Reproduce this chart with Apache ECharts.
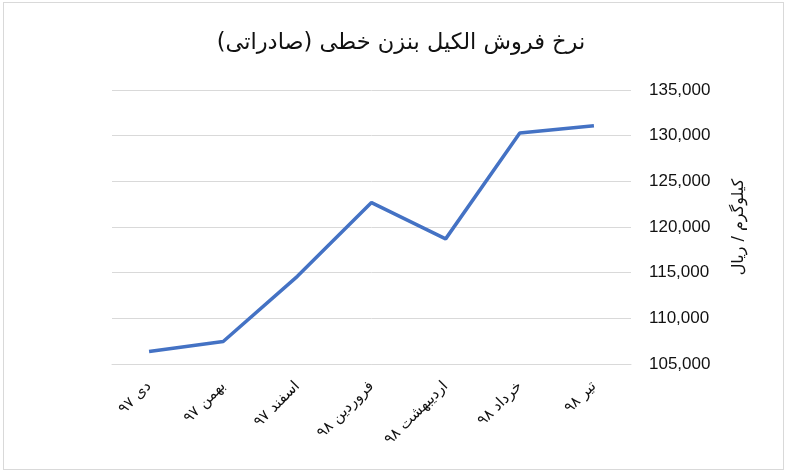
<!DOCTYPE html>
<html>
<head>
<meta charset="utf-8">
<script src="https://cdn.jsdelivr.net/npm/echarts@6/dist/echarts.min.js"></script>
<style>
  html, body { margin: 0; padding: 0; background: #fff; }
  #frame { position: absolute; left: 3px; top: 2px; width: 779px; height: 466px; border: 1px solid #d9d9d9; }
  #chart { position: absolute; left: 0; top: 0; width: 789px; height: 475px; }
</style>
</head>
<body>
<div id="frame"></div>
<div id="chart" dir="rtl"></div>
<script>
// داده‌ها
const months = ['دی ۹۷', 'بهمن ۹۷', 'اسفند ۹۷', 'فروردین ۹۸', 'اردیبهشت ۹۸', 'خرداد ۹۸', 'تیر ۹۸']
const prices = [106370, 107460, 114600, 122670, 118700, 130280, 131090]
const yMin = 105000
const yMax = 135000
const yStep = 5000

const chart = echarts.init(document.getElementById('chart'))
const option = {
  animation: false,
  title: {
    text: 'نرخ فروش الکیل بنزن خطی (صادراتی)',
    left: 396,
    textAlign: 'center',
    top: 27,
    textStyle: { fontFamily: 'DejaVu Sans', fontSize: 22.5, fontWeight: 'normal', color: '#111' }
  },
  grid: { left: 112, right: 158, top: 90, bottom: 111 },
  xAxis: {
    type: 'category',
    data: months,
    boundaryGap: true,
    axisLine: { lineStyle: { color: '#d9d9d9' } },
    axisTick: { show: false },
    axisLabel: {
      rotate: 45,
      margin: 20,
      interval: 0,
      fontFamily: 'DejaVu Sans',
      fontSize: 15,
      color: '#111'
    }
  },
  yAxis: {
    type: 'value',
    position: 'right',
    min: yMin,
    max: yMax,
    interval: yStep,
    name: 'کیلوگرم / ریال',
    nameLocation: 'middle',
    nameRotate: 90,
    nameGap: 100,
    nameTextStyle: { fontFamily: 'DejaVu Sans', fontSize: 16, color: '#111' },
    axisLine: { show: false },
    axisTick: { show: false },
    splitLine: { lineStyle: { color: '#d9d9d9', width: 1 } },
    axisLabel: {
      margin: 18,
      fontFamily: 'Liberation Sans',
      fontSize: 17,
      color: '#111',
      formatter: v => v.toLocaleString('en-US')
    }
  },
  series: [{
    type: 'line',
    data: prices,
    showSymbol: false,
    lineStyle: { color: '#4472C4', width: 3.5 },
    itemStyle: { color: '#4472C4' }
  }]
}
chart.setOption(option)
</script>
</body>
</html>
